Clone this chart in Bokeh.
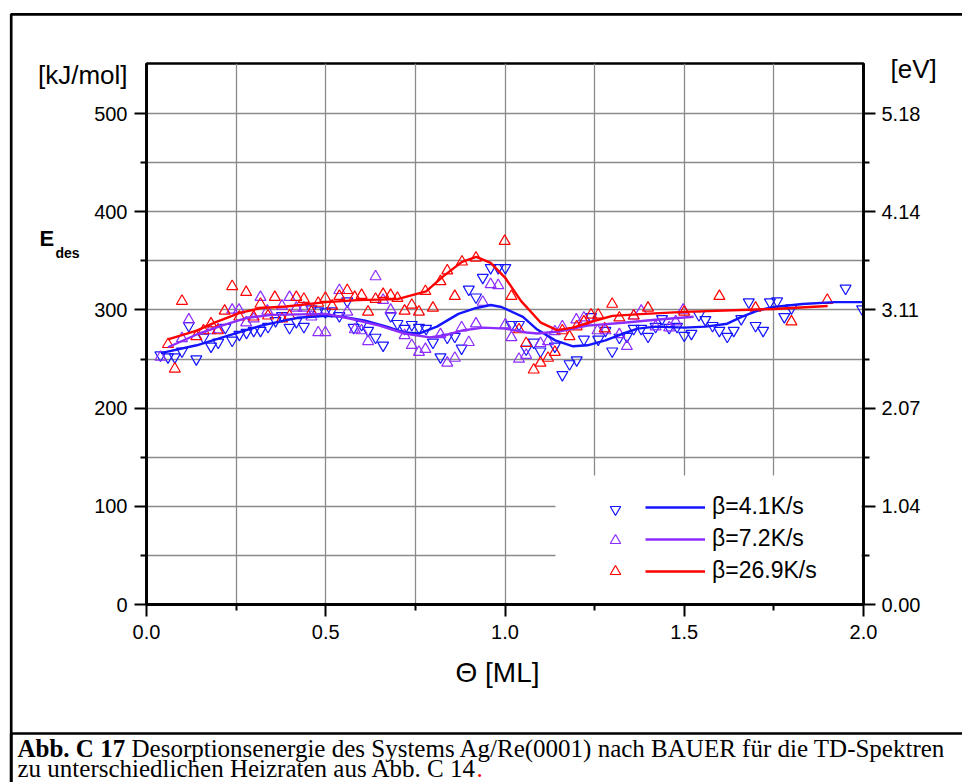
from bokeh.plotting import figure
from bokeh.models import (Range1d, LinearAxis, FixedTicker, Label, Legend, LegendItem,
                          BoxAnnotation, GridBox, Column)
from bokeh.embed import file_html
from bokeh.resources import INLINE

# ---------------- data ----------------
blue_x = [0.039, 0.060, 0.079, 0.099, 0.118, 0.139, 0.159, 0.180, 0.200, 0.220, 0.239, 0.259,
          0.279, 0.299, 0.318, 0.339, 0.360, 0.378, 0.399, 0.418, 0.439, 0.460, 0.479, 0.499,
          0.516, 0.538, 0.560, 0.578, 0.600, 0.618, 0.639, 0.660, 0.681, 0.700, 0.720, 0.740,
          0.760, 0.780, 0.799, 0.820, 0.839, 0.860, 0.879, 0.899, 0.919, 0.938, 0.960, 0.981,
          1.001, 1.018, 1.039, 1.059, 1.080, 1.099, 1.139, 1.160, 1.180, 1.200, 1.220, 1.240,
          1.260, 1.280, 1.299, 1.319, 1.340, 1.359, 1.380, 1.399, 1.420, 1.438, 1.458, 1.480,
          1.500, 1.520, 1.541, 1.559, 1.579, 1.598, 1.620, 1.638, 1.659, 1.680, 1.699, 1.720,
          1.739, 1.759, 1.779, 1.799, 1.950, 1.996]
blue_y = [254, 252, 252, 258, 284, 250, 272, 263, 267, 282, 269, 275,
          277, 279, 279, 283, 289, 294, 282, 288, 283, 301, 299, 298,
          299, 294, 309, 282, 285, 279, 272, 264, 294, 286, 281, 285,
          282, 281, 267, 252, 272, 273, 261, 321, 313, 333, 343, 343,
          343, 285, 285, 260, 267, 258, 263, 234, 245, 249, 270, 293,
          270, 279, 258, 272, 273, 281, 281, 273, 283, 291, 282, 283,
          274, 276, 295, 290, 284, 279, 273, 279, 291, 308, 284, 279,
          308, 309, 293, 302, 322, 301]

purple_x = [0.039, 0.099, 0.118, 0.178, 0.200, 0.239, 0.258, 0.278, 0.299, 0.318, 0.337, 0.378,
            0.399, 0.418, 0.439, 0.460, 0.479, 0.499, 0.538, 0.560, 0.581, 0.600, 0.618, 0.639,
            0.660, 0.681, 0.720, 0.740, 0.760, 0.778, 0.820, 0.839, 0.860, 0.879, 0.899, 0.919,
            0.938, 0.960, 0.981, 1.001, 1.018, 1.039, 1.059, 1.099, 1.120, 1.139, 1.160, 1.199,
            1.220, 1.258, 1.280, 1.319, 1.340, 1.359, 1.380, 1.420, 1.458, 1.476, 1.497]
purple_y = [252, 271, 290, 279, 280, 300, 300, 287, 291, 313, 299, 304,
            313, 302, 302, 293, 277, 277, 320, 298, 280, 279, 268, 334,
            310, 300, 274, 264, 257, 260, 275, 246, 251, 282, 267, 286,
            308, 326, 325, 285, 272, 250, 254, 266, 268, 278, 283, 290,
            292, 279, 279, 275, 263, 294, 299, 283, 282, 288, 300]

red_x = [0.060, 0.079, 0.099, 0.139, 0.159, 0.180, 0.199, 0.218, 0.239, 0.259, 0.278, 0.299,
         0.318, 0.339, 0.358, 0.378, 0.399, 0.418, 0.439, 0.460, 0.479, 0.499, 0.518, 0.538,
         0.560, 0.581, 0.600, 0.618, 0.639, 0.660, 0.681, 0.700, 0.720, 0.740, 0.760, 0.778,
         0.799, 0.820, 0.839, 0.860, 0.880, 0.919, 0.999, 1.018, 1.039, 1.059, 1.080, 1.099,
         1.120, 1.139, 1.160, 1.180, 1.200, 1.220, 1.240, 1.260, 1.278, 1.299, 1.319, 1.359,
         1.399, 1.500, 1.598, 1.699, 1.799, 1.899]
red_y = [265, 240, 309, 273, 279, 286, 279, 299, 324, 293, 318, 293,
         306, 294, 313, 291, 294, 313, 311, 298, 307, 312, 304, 314,
         320, 313, 315, 298, 311, 316, 315, 312, 299, 305, 298, 319,
         302, 329, 340, 314, 349, 353, 370, 314, 280, 266, 239, 246,
         251, 257, 279, 273, 283, 288, 295, 295, 281, 306, 292, 294,
         302, 298, 314, 302, 288, 310]

# fitted curves
blue_fit_x = [0.04, 0.14, 0.23, 0.32, 0.42, 0.50, 0.55, 0.61, 0.67, 0.72, 0.76, 0.81, 0.87,
              0.92, 0.96, 0.99, 1.05, 1.09, 1.14, 1.19, 1.23, 1.28, 1.33, 1.37, 1.42, 1.50,
              1.56, 1.62, 1.66, 1.71, 1.75, 1.83, 1.92, 2.00]
blue_fit_y = [256, 264, 274, 284, 292, 294, 293, 289, 283, 277, 276, 283, 296,
              302, 305, 303, 293, 280, 269, 263, 264, 269, 276, 281, 283, 282,
              283, 286, 293, 300, 303, 306, 308, 308]
purple_fit_x = [0.06, 0.14, 0.21, 0.28, 0.35, 0.50, 0.57, 0.65, 0.72, 0.79, 0.83, 0.88, 0.94,
                1.00, 1.06, 1.09, 1.15, 1.23, 1.33, 1.42, 1.526]
purple_fit_y = [262, 275, 284, 292, 295, 296, 291, 284, 276, 272, 274, 279, 282,
                281, 277, 276, 278, 284, 287, 290, 293]
red_fit_x = [0.06, 0.14, 0.19, 0.26, 0.32, 0.39, 0.50, 0.59, 0.70, 0.78, 0.83, 0.88, 0.92,
             0.96, 1.00, 1.045, 1.10, 1.145, 1.19, 1.25, 1.30, 1.39, 1.50, 1.75, 1.90]
red_fit_y = [270, 279, 287, 297, 302, 303.5, 308, 310, 311, 319, 335, 349, 354,
             348, 333, 309, 287, 279.5, 282, 289, 294, 296, 298, 301, 304]

series_labels = ["\u03b2=4.1K/s", "\u03b2=7.2K/s", "\u03b2=26.9K/s"]
kj_ticks = [0, 100, 200, 300, 400, 500]
kj_minor = [50, 150, 250, 350, 450]
ev_labels = ["0.00", "1.04", "2.07", "3.11", "4.14", "5.18"]
x_ticks = [0, 0.5, 1.0, 1.5, 2.0]
x_minor = [0.25, 0.75, 1.25, 1.75]
x_tick_labels = ["0.0", "0.5", "1.0", "1.5", "2.0"]
y_unit_left = "[kJ/mol]"
y_unit_right = "[eV]"
x_title = "\u0398 [ML]"
caption_bold = "Abb. C 17"
caption_1 = "Desorptionsenergie des Systems Ag/Re(0001) nach BAUER f\u00fcr die TD-Spektren"
caption_2 = "zu unterschiedlichen Heizraten aus Abb. C 14"

# ---------------- styles ----------------
BLUE = "#1414ff"
PURPLE = "#8c2cff"
RED = "#ff0000"
SANS = "Liberation Sans"
SERIF = "Liberation Serif"
GRID = "#8a8a8a"

W, H = 962, 782
FL, FR, FT, FB = 146, 863, 63, 604   # frame edges (page px)
YMAX = 551.0

# ---------------- chart figure ----------------
p = figure(width=W, height=H, x_range=Range1d(0, 2), y_range=Range1d(0, YMAX),
           output_backend="svg", toolbar_location=None,
           min_border_left=FL, min_border_right=W - FR,
           min_border_top=FT, min_border_bottom=H - FB,
           x_axis_location=None, y_axis_location=None)
p.background_fill_color = "white"
p.border_fill_color = "white"
p.outline_line_color = "black"
p.outline_line_width = 2.5

xt = FixedTicker(ticks=x_ticks, minor_ticks=x_minor)
yt = FixedTicker(ticks=kj_ticks, minor_ticks=kj_minor)

def style_axis(ax):
    ax.axis_line_color = "black"
    ax.axis_line_width = 2.8
    ax.major_tick_line_color = "black"
    ax.minor_tick_line_color = "black"
    ax.major_tick_line_width = 2
    ax.minor_tick_line_width = 2
    ax.major_tick_in = 0
    ax.minor_tick_in = 0
    ax.major_tick_out = 12
    ax.minor_tick_out = 6
    ax.major_label_text_font = SANS
    ax.major_label_text_font_size = "20px"
    ax.major_label_text_color = "black"

xaxis = LinearAxis(ticker=xt, major_label_overrides=dict(zip(x_ticks, x_tick_labels)))
style_axis(xaxis)
xaxis.major_label_standoff = 8
p.add_layout(xaxis, "below")

yaxis = LinearAxis(ticker=yt)
style_axis(yaxis)
yaxis.major_label_standoff = 7
p.add_layout(yaxis, "left")

p.extra_y_ranges = {"ev": Range1d(0, YMAX)}
raxis = LinearAxis(y_range_name="ev", ticker=FixedTicker(ticks=kj_ticks, minor_ticks=kj_minor),
                   major_label_overrides=dict(zip(kj_ticks, ev_labels)))
style_axis(raxis)
raxis.major_label_standoff = 6
p.add_layout(raxis, "right")

p.xgrid.ticker = xt
p.ygrid.ticker = yt
for g in (p.xgrid, p.ygrid):
    g.grid_line_color = GRID
    g.grid_line_width = 1.3
    g.minor_grid_line_color = GRID
    g.minor_grid_line_width = 1.3

# white area behind the legend
p.add_layout(BoxAnnotation(left=(555 - FL) / (FR - FL) * 2, right=1.994, bottom=1.5,
                           top=(FB - 475) / (FB - FT) * YMAX,
                           fill_color="white", fill_alpha=1.0, line_alpha=0))

sb = p.scatter(blue_x, blue_y, marker="inverted_triangle", size=11, fill_alpha=0,
               line_color=BLUE, line_width=1.2)
sp = p.scatter(purple_x, purple_y, marker="triangle", size=11, fill_alpha=0,
               line_color=PURPLE, line_width=1.2)
sr = p.scatter(red_x, red_y, marker="triangle", size=11, fill_alpha=0,
               line_color=RED, line_width=1.2)

lb = p.line(blue_fit_x, blue_fit_y, line_color=BLUE, line_width=2.4)
lp = p.line(purple_fit_x, purple_fit_y, line_color=PURPLE, line_width=2.4)
lr = p.line(red_fit_x, red_fit_y, line_color=RED, line_width=2.4)

common = dict(glyph_height=26, label_height=26, spacing=5, padding=10, margin=0,
              background_fill_alpha=0, border_line_alpha=0,
              label_text_font_size="23px", label_text_font=SANS, label_text_color="black")
legA = Legend(items=[LegendItem(label=" ", renderers=[r]) for r in (sb, sp, sr)],
              location=(446, 10), glyph_width=26, **common)
legB = Legend(items=[LegendItem(label=lab, renderers=[r])
                     for lab, r in zip(series_labels, (lb, lp, lr))],
              location=(489, 10), glyph_width=60, label_standoff=7, **common)
p.add_layout(legA)
p.add_layout(legB)

# ---------------- paper figure (texts and box lines, page pixel coords) ----------------
paper = figure(width=W, height=H, x_range=Range1d(0, W), y_range=Range1d(H, 0),
               output_backend="svg", toolbar_location=None, min_border=0,
               x_axis_location=None, y_axis_location=None)
paper.outline_line_color = None
paper.xgrid.visible = False
paper.ygrid.visible = False
paper.background_fill_alpha = 0
paper.border_fill_alpha = 0

def plab(text, x, y, size, font=SANS, style="normal", align="left", color="black"):
    # y is the wanted baseline; compensate the renderer's baseline offset
    px = float(size.replace("px", ""))
    paper.add_layout(Label(x=x, y=y - 0.26 * px, text=text, text_font=font,
                           text_font_size=size, text_font_style=style, text_color=color,
                           text_align=align, text_baseline="alphabetic"))

plab(y_unit_left, 127, 81, "26px", align="right")
plab("E", 39, 244, "22px", style="bold")
plab("des", 55, 256, "14px", style="bold")
plab(y_unit_right, 890, 75, "26px")
plab(x_title, 497, 679, "28px", align="center")

plab(caption_bold, 17, 754, "25px", font=SERIF, style="bold")
plab(caption_1, 131, 754, "25px", font=SERIF)
plab(caption_2, 17, 774, "25px", font=SERIF)
plab(".", 476, 774, "25px", font=SERIF, color="red")

# outer box lines and caption separator
paper.add_layout(BoxAnnotation(left=10.7, right=2000, top=13.8, bottom=2000,
                               fill_alpha=0, line_color="black", line_alpha=1.0,
                               line_width=2.7))
paper.add_layout(BoxAnnotation(left=10.7, right=2000, top=733, bottom=2000,
                               fill_alpha=0, line_color="black", line_alpha=1.0,
                               line_width=2.7))

page = GridBox(children=[(Column(children=[p]), 0, 0), (Column(children=[paper]), 0, 0)])
open("out.html", "w").write(file_html(page, INLINE))
